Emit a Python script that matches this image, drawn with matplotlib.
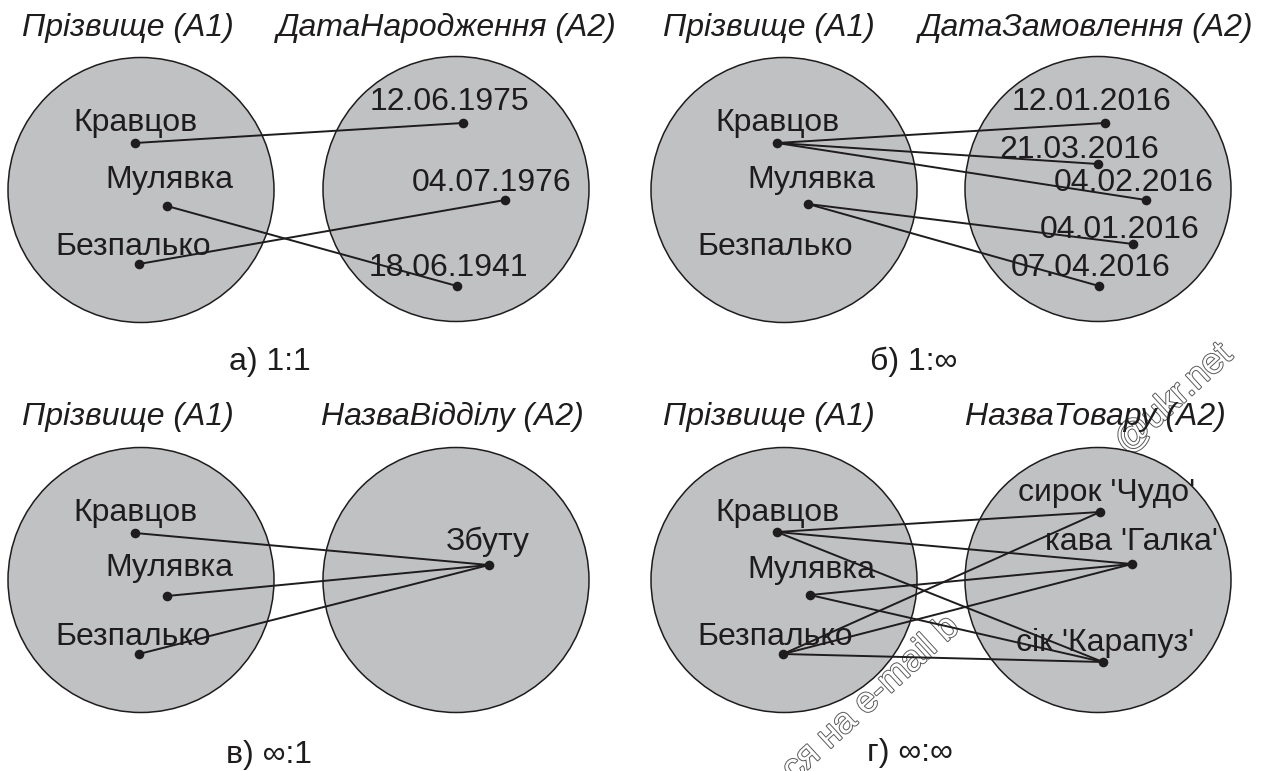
import matplotlib
matplotlib.use("Agg")
import matplotlib.pyplot as plt
from matplotlib.patches import Ellipse
import matplotlib.patheffects as pe

plt.rcParams['font.family'] = ['Liberation Sans', 'DejaVu Sans']

# ---------------- data ----------------
surnames = ["Кравцов", "Мулявка", "Безпалько"]

a_title = "ДатаНародження"
a_values = ["12.06.1975", "04.07.1976", "18.06.1941"]
a_links = [(0, 0), (1, 2), (2, 1)]
a_caption = "а) 1:1"

b_title = "ДатаЗамовлення"
b_values = ["12.01.2016", "21.03.2016", "04.02.2016", "04.01.2016", "07.04.2016"]
b_links = [(0, 0), (0, 1), (0, 2), (1, 3), (1, 4)]
b_caption = "б) 1:∞"

c_title = "НазваВідділу"
c_values = ["Збуту"]
c_links = [(0, 0), (1, 0), (2, 0)]
c_caption = "в) ∞:1"

d_title = "НазваТовару"
d_values = ["сирок 'Чудо'", "кава 'Галка'", "сік 'Карапуз'"]
d_links = [(0, 0), (0, 1), (0, 2), (1, 1), (1, 2), (2, 0), (2, 1), (2, 2)]
d_caption = "г) ∞:∞"

left_header = "Прізвище"
watermark_parts = ["ся на e-mail b", "@ukr.net"]

# ---------------- layout (pixel positions) ----------------
layout = {
    "a": dict(lc=(141, 190), rc=(456, 189), head_y=28, lh_x=128, rh_x=447, cap=(270, 362),
              llab=[(135, 123), (169, 180), (133, 247)], ldot=[(135, 143), (167, 206), (139, 264)],
              rlab=[(449, 102), (492, 183), (448, 268)], rdot=[(463, 123), (505, 200), (457, 286)]),
    "b": dict(lc=(784, 190), rc=(1098, 189), head_y=28, lh_x=769, rh_x=1086, cap=(914, 362),
              llab=[(777, 123), (811, 180), (775, 247)], ldot=[(777, 143), (808, 204), None],
              rlab=[(1091, 102), (1079, 150), (1134, 183), (1120, 230), (1091, 268)],
              rdot=[(1105, 123), (1098, 164), (1146, 200), (1133, 244), (1099, 286)]),
    "c": dict(lc=(141, 580), rc=(456, 580), head_y=417, lh_x=128, rh_x=452, cap=(269, 755),
              llab=[(135, 513), (169, 568), (133, 637)], ldot=[(135, 533), (167, 596), (139, 654)],
              rlab=[(488, 542)], rdot=[(489, 565)]),
    "d": dict(lc=(784, 580), rc=(1098, 580), head_y=417, lh_x=769, rh_x=1095, cap=(910, 753),
              llab=[(777, 513), (811, 570), (775, 637)], ldot=[(777, 532), (810, 595), (783, 654)],
              rlab=[(1107, 493), (1131, 542), (1105, 643)], rdot=[(1100, 512), (1132, 564), (1103, 662)]),
    "wm": [(794, 782), (1127, 455)],
}
panels = {
    "a": (a_title, a_values, a_links, a_caption),
    "b": (b_title, b_values, b_links, b_caption),
    "c": (c_title, c_values, c_links, c_caption),
    "d": (d_title, d_values, d_links, d_caption),
}

W, H = 1262, 771
fig = plt.figure(figsize=(W / 100, H / 100), dpi=100)
ax = fig.add_axes([0, 0, 1, 1])
ax.set_xlim(0, W)
ax.set_ylim(H, 0)
ax.axis("off")

FS = 23
INK = "#1f1c1d"
GREY = "#c0c1c3"
EW, EH = 266, 265

# watermark (below circles, hollow letters)
wm_eff = [pe.withStroke(linewidth=1.4, foreground="#5a5a5a")]
for txt, p in zip(watermark_parts, layout["wm"]):
    ax.text(p[0], p[1], txt, rotation=42.5, rotation_mode="anchor",
            ha="left", va="baseline", fontsize=26, color="white", path_effects=wm_eff, zorder=0)

for key, (title, values, links, caption) in panels.items():
    L = layout[key]
    for c in (L["lc"], L["rc"]):
        ax.add_patch(Ellipse(c, EW, EH, facecolor=GREY, edgecolor=INK, lw=1.1, zorder=1))
    ax.text(L["lh_x"], L["head_y"], f"{left_header} (А1)", ha="center", va="center",
            fontsize=FS, style="italic", color=INK, zorder=5)
    ax.text(L["rh_x"], L["head_y"], f"{title} (А2)", ha="center", va="center",
            fontsize=FS, style="italic", color=INK, zorder=5)
    ax.text(L["cap"][0], L["cap"][1], caption, ha="center", va="center",
            fontsize=FS, color=INK, zorder=5)
    for name, p in zip(surnames, L["llab"]):
        ax.text(p[0], p[1], name, ha="center", va="center", fontsize=FS, color=INK, zorder=3)
    for val, p in zip(values, L["rlab"]):
        ax.text(p[0], p[1], val, ha="center", va="center", fontsize=FS, color=INK, zorder=3)
    for i, j in links:
        p, q = L["ldot"][i], L["rdot"][j]
        ax.plot([p[0], q[0]], [p[1], q[1]], color=INK, lw=1.4, zorder=4,
                solid_capstyle="round")
    pts = [p for p in L["ldot"] if p is not None] + L["rdot"]
    ax.scatter([p[0] for p in pts], [p[1] for p in pts], s=48, color=INK, zorder=6,
               linewidths=0)

fig.savefig("out.png", dpi=100)
